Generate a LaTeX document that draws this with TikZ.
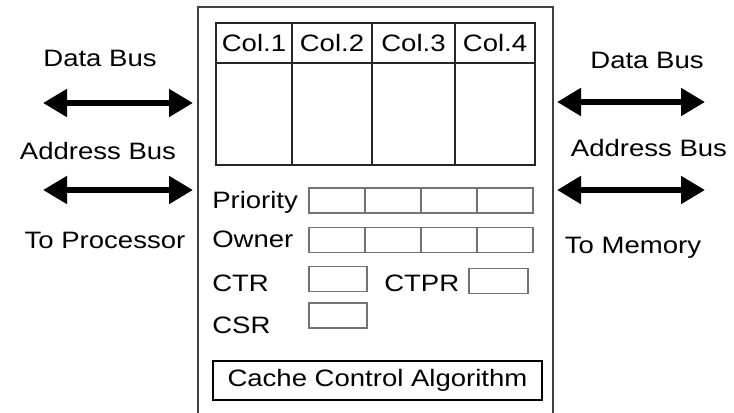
\documentclass[tikz,border=0pt]{standalone}
\usepackage{fontspec}
\setmainfont{Liberation Sans}[FakeStretch=1.16]
\usetikzlibrary{arrows.meta,positioning}
\tikzstyle{lbl}=[inner sep=0pt,font=\fontsize{17.8}{20}\selectfont]
\tikzstyle{bus}=[{Triangle[length=18pt,width=20pt]}-{Triangle[length=18pt,width=20pt]},line width=4.4pt]
\tikzstyle{col}=[rectangle,draw=black!85,line width=1.3pt,outer sep=0pt,inner sep=0pt,minimum height=30pt,font=\fontsize{17.8}{20}\selectfont]
\tikzstyle{reg}=[rectangle,draw=black!55,line width=1pt,outer sep=0pt,inner sep=0pt,minimum width=42pt,minimum height=18.75pt]

\begin{document}
\begin{tikzpicture}[x=0.75pt,y=-0.75pt]
\useasboundingbox (0,0) rectangle (734,413);
\clip (0,0) rectangle (734,413);
\node[rectangle,draw=black!75,line width=1.5pt,outer sep=0pt,inner sep=0pt,minimum width=266.25pt,minimum height=340pt,anchor=north west] (cache) at (198,7) {};

\node[col,minimum width=57pt,anchor=north west] (h1) at (216,23) {Col.1};
\node[col,minimum width=60pt,right=0pt of h1] (h2) {Col.2};
\node[col,minimum width=62.25pt,right=0pt of h2] (h3) {Col.3};
\node[col,minimum width=60pt,right=0pt of h3] (h4) {Col.4};
\node[col,minimum width=57pt,minimum height=76.5pt,below=0pt of h1] (b1) {};
\node[col,minimum width=60pt,minimum height=76.5pt,below=0pt of h2] (b2) {};
\node[col,minimum width=62.25pt,minimum height=76.5pt,below=0pt of h3] (b3) {};
\node[col,minimum width=60pt,minimum height=76.5pt,below=0pt of h4] (b4) {};

\node[lbl,anchor=base west] (prio) at (212,208.5) {Priority};
\node[reg] (p1) at (337,200.5) {};
\node[reg,right=0pt of p1] (p2) {};
\node[reg,right=0pt of p2] (p3) {};
\node[reg,right=0pt of p3] (p4) {};
\node[lbl,anchor=base west] (own) at (212,247) {Owner};
\node[reg] (o1) at (337,240) {};
\node[reg,right=0pt of o1] (o2) {};
\node[reg,right=0pt of o2] (o3) {};
\node[reg,right=0pt of o3] (o4) {};
\node[lbl,anchor=base west] (ctrl) at (212,291) {CTR};
\node[reg,minimum width=43.5pt] (ctr) at (338,279) {};
\node[lbl,anchor=base west] (ctprl) at (384,291) {CTPR};
\node[reg,minimum width=44.25pt] (ctpr) at (498.5,281) {};
\node[lbl,anchor=base west] (csrl) at (212,333) {CSR};
\node[reg,minimum width=43.5pt] (csr) at (338,315.5) {};
\node[rectangle,draw,line width=1.5pt,inner sep=0pt,minimum width=246.75pt,minimum height=29.25pt,font=\fontsize{17.8}{20}\selectfont] (alg) at (377.5,380.5) {Cache Control Algorithm};

\node[lbl,anchor=base] (pdata) at (100,67) {Data Bus};
\node[lbl,anchor=base] (paddr) at (98,160) {Address Bus};
\node[lbl,anchor=base] (proc) at (105,248) {To Processor};
\node[lbl,anchor=base] (mdata) at (647,69) {Data Bus};
\node[lbl,anchor=base] (maddr) at (649,157) {Address Bus};
\node[lbl,anchor=base] (mem) at (633,253) {To Memory};

\coordinate (pd1) at (43,103);
\coordinate (pd2) at (193,103);
\coordinate (pa1) at (43,190);
\coordinate (pa2) at (193,190);
\coordinate (md1) at (557,102);
\coordinate (md2) at (705,102);
\coordinate (ma1) at (557,190);
\coordinate (ma2) at (705,190);
\draw[bus] (pd1) -- (pd2);
\draw[bus] (pa1) -- (pa2);
\draw[bus] (md1) -- (md2);
\draw[bus] (ma1) -- (ma2);
\end{tikzpicture}
\end{document}
